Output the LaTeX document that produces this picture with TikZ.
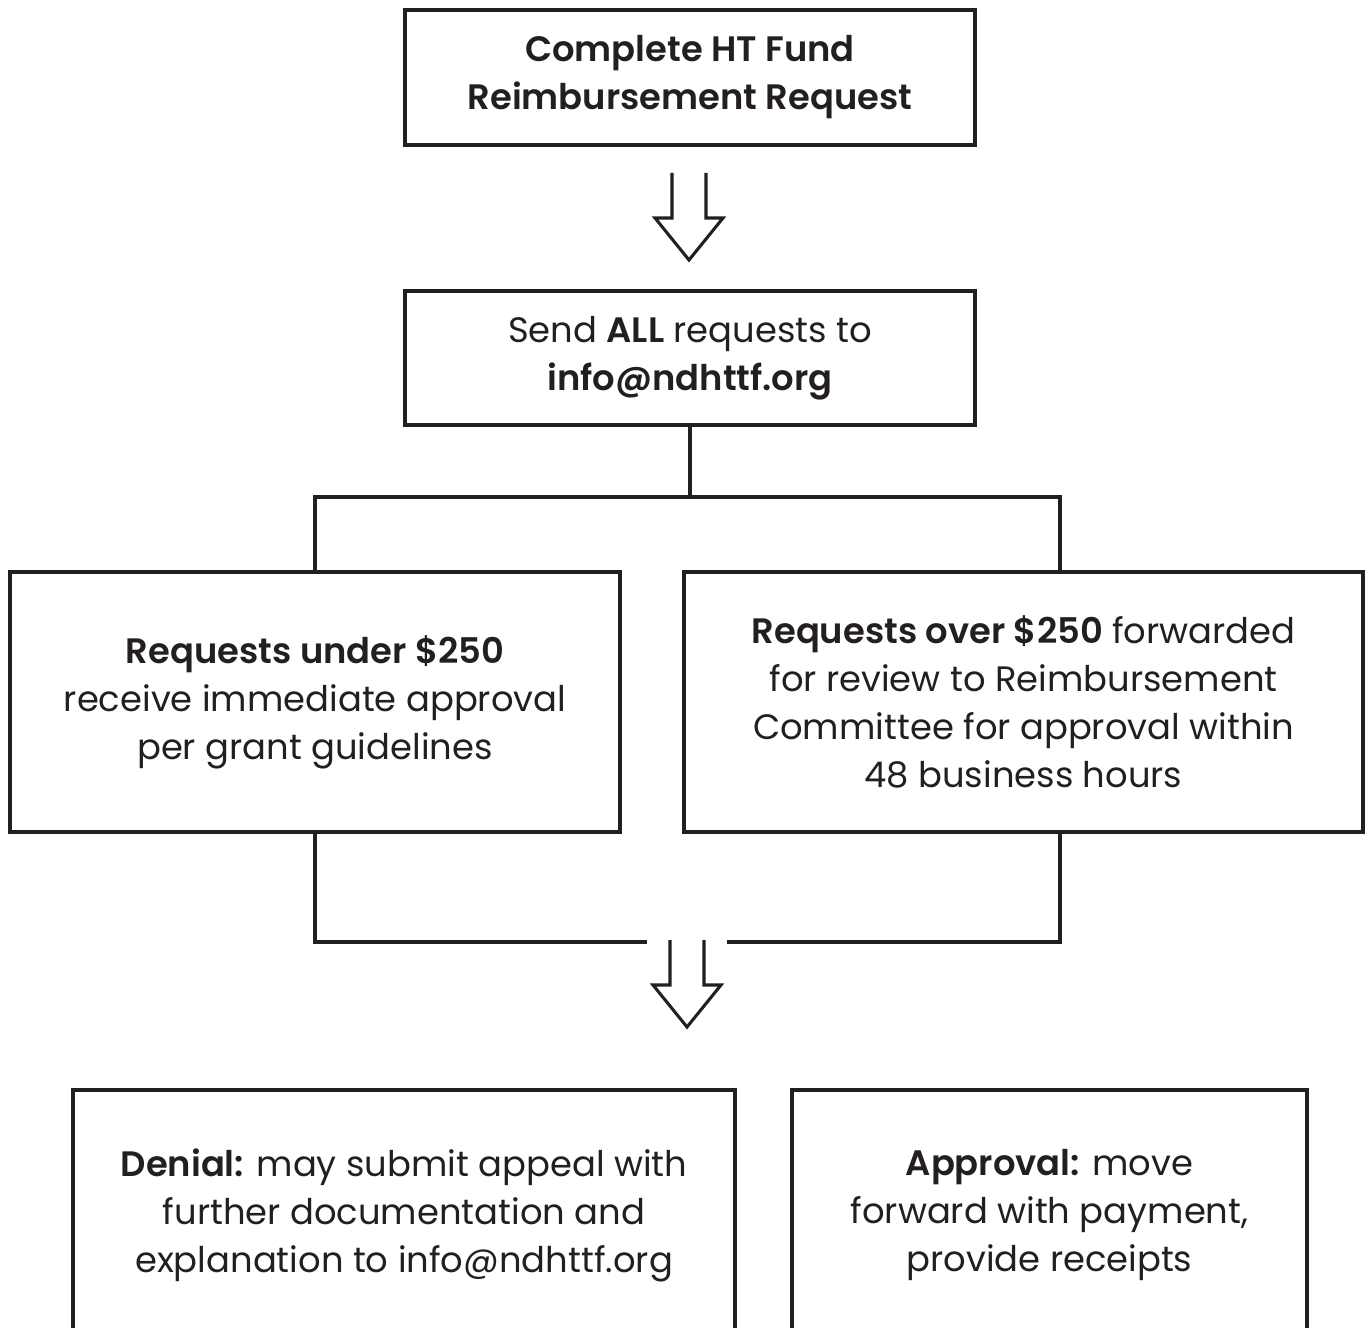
\documentclass[tikz,border=0pt]{standalone}
\usepackage{fontspec}
\setmainfont{Poppins}[BoldFont={* SemiBold}]
\usetikzlibrary{positioning}
\definecolor{ink}{HTML}{231F20}

\tikzset{
  box/.style={draw=ink, line width=3.6pt, text=ink, align=center, inner sep=0pt},
  link/.style={draw=ink, line width=3.6pt},
  fatarrow/.pic={
    \draw[ink, line width=2.3pt, line join=miter]
      (-17,-87) -- (-17,-42) -- (-34,-42) -- (0,0) -- (34,-42) -- (17,-42) -- (17,-87);
  }
}

\begin{document}
\begin{tikzpicture}[x=0.75pt,y=-0.75pt, font=\fontsize{26.5}{36}\selectfont]
    % page is 1366 x 1327 px, one unit is one px
    \useasboundingbox (0,0) rectangle (1366,1327);

    \node[box, minimum width=427.5pt, minimum height=101.25pt] (request) at (690,77.5)
        {\textbf{Complete HT Fund}\\ \textbf{Reimbursement Request}};
    \pic at (689,260) {fatarrow};

    \node[box, minimum width=427.5pt, minimum height=100.5pt] (send) at (690,358)
        {Send \textbf{ALL} requests to\\ \textbf{info@ndhttf.org}};

    \node[box, minimum width=457.5pt, minimum height=195pt] (under) at (315,702)
        {\textbf{Requests under \$250}\\ receive immediate approval\\ per grant guidelines};
    \node[box, minimum width=509.25pt, minimum height=195pt] (over) at (1023.5,702)
        {\textbf{Requests over \$250} forwarded\\ for review to Reimbursement\\
         Committee for approval within\\ 48 business hours};

    % split after sending
    \coordinate (split) at (690,497);
    \draw[link] (send.south) -- (split);
    \draw[link] (under.north) |- (split) -| ([xshift=27.4pt]over.north);

    % merge into the second arrow
    \coordinate (gapl) at (647,942);
    \coordinate (gapr) at (727,942);
    \draw[link] (under.south) |- (gapl);
    \draw[link] ([xshift=27.4pt]over.south) |- (gapr);
    \pic at (687,1027) {fatarrow};

    \node[box, minimum width=496.5pt, minimum height=187.5pt] (denial) at (404,1215)
        {\textbf{Denial:} may submit appeal with\\ further documentation and\\
         explanation to info@ndhttf.org};
    \node[box, minimum width=386.25pt, minimum height=187.5pt] (approval) at (1049.5,1215)
        {\textbf{Approval:} move\\ forward with payment,\\ provide receipts};
\end{tikzpicture}
\end{document}
